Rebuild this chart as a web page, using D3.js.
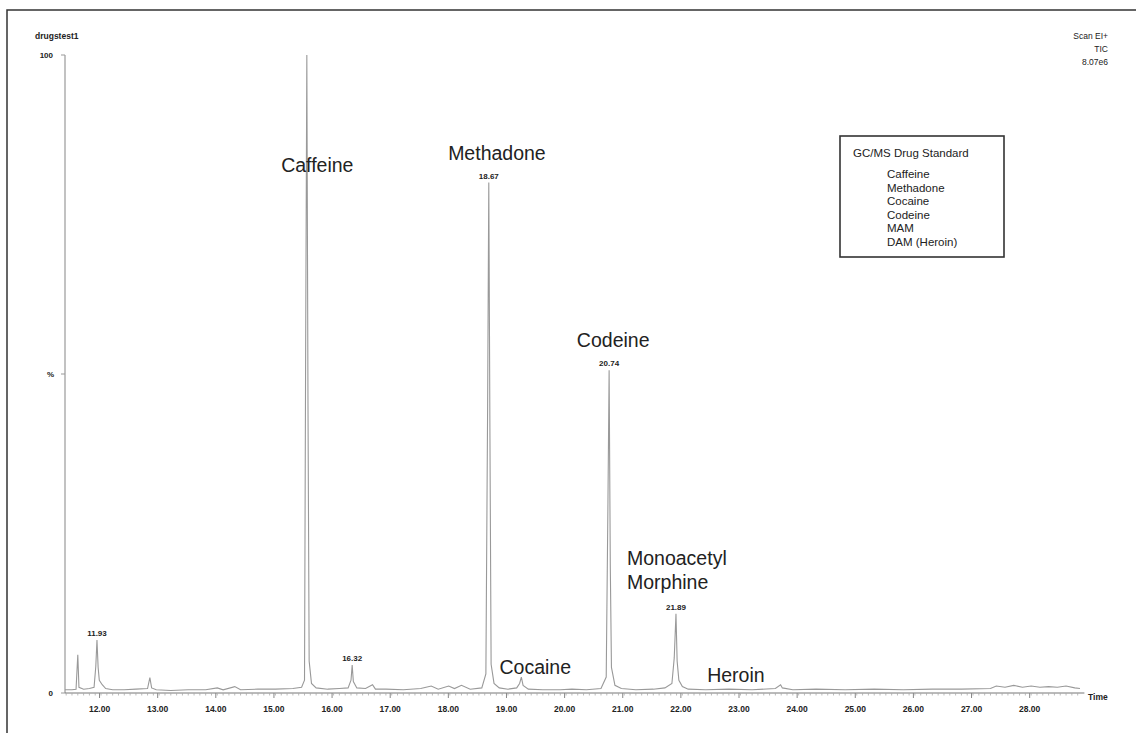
<!DOCTYPE html>
<html>
<head>
<meta charset="utf-8">
<style>
  html, body { margin: 0; padding: 0; background: #fff; }
  svg { display: block; }
  text { font-family: "Liberation Sans", Arial, sans-serif; fill: #222; }
</style>
<script src="https://cdn.jsdelivr.net/npm/d3@7"></script>
</head>
<body>
<svg id="chart"></svg>
<script>
// chromatogram data (retention time in minutes, TIC in %)
const retention = [
  11.38, 11.50, 11.57, 11.60, 11.62, 11.70, 11.80, 11.88, 11.91, 11.93, 11.95, 11.97, 12.02, 12.08,
  12.20, 12.40, 12.60, 12.80, 12.84, 12.87, 12.95, 13.20, 13.50, 13.80, 14.00, 14.10, 14.30, 14.40,
  14.70, 15.00, 15.30, 15.45, 15.50, 15.52, 15.54, 15.56, 15.58, 15.62, 15.70, 15.90, 16.10, 16.25,
  16.30, 16.32, 16.34, 16.40, 16.55, 16.67, 16.72, 16.90, 17.20, 17.50, 17.68, 17.80, 17.98, 18.08,
  18.20, 18.35, 18.55, 18.62, 18.65, 18.67, 18.69, 18.71, 18.76, 18.85, 19.00, 19.15, 19.20, 19.23,
  19.26, 19.35, 19.60, 19.90, 20.10, 20.35, 20.60, 20.69, 20.72, 20.74, 20.76, 20.78, 20.84, 20.95,
  21.20, 21.50, 21.70, 21.82, 21.86, 21.89, 21.91, 21.94, 22.00, 22.10, 22.40, 22.80, 23.20, 23.60,
  23.69, 23.72, 23.90, 24.30, 24.80, 25.30, 25.80, 26.30, 26.80, 27.30, 27.40, 27.55, 27.70, 27.85,
  28.00, 28.15, 28.30, 28.45, 28.60, 28.75, 28.84
];
const intensity = [
  0.5, 0.5, 0.6, 6.0, 0.9, 0.6, 0.7, 0.9, 4.2, 8.3, 4.0, 2.0, 1.3, 0.7,
  0.5, 0.5, 0.6, 0.7, 2.4, 0.8, 0.5, 0.4, 0.5, 0.5, 0.8, 0.5, 1.0, 0.5,
  0.6, 0.6, 0.7, 0.9, 2.0, 55, 100, 45, 5, 1.5, 0.8, 0.6, 0.7, 0.8,
  2.0, 4.4, 1.8, 0.8, 0.7, 1.3, 0.6, 0.6, 0.5, 0.7, 1.1, 0.6, 1.1, 0.7,
  1.2, 0.6, 0.8, 3.0, 45, 80, 40, 4.5, 1.5, 0.8, 0.6, 0.8, 1.5, 2.5,
  1.2, 0.6, 0.5, 0.5, 0.6, 0.5, 0.7, 2.5, 30, 50.6, 20, 4, 1.2, 0.7,
  0.5, 0.6, 0.8, 1.5, 5.5, 12.4, 5, 2.0, 1.0, 0.6, 0.5, 0.6, 0.5, 0.7,
  1.3, 0.8, 0.5, 0.6, 0.5, 0.6, 0.5, 0.6, 0.6, 0.7, 1.1, 0.9, 1.2, 0.9,
  1.1, 0.9, 1.0, 0.9, 1.1, 0.8, 0.7
];

// labelled peaks (apex time and height) and the printed retention times
const peakTimes = [11.93, 16.32, 18.67, 20.74, 21.89];
const peakHeights = [8.3, 4.4, 80, 50.6, 12.4];
const peakLabels = ['11.93', '16.32', '18.67', '20.74', '21.89'];

// compound names written on the trace
const compoundNames = ['Caffeine', 'Methadone', 'Codeine', 'Monoacetyl\nMorphine', 'Cocaine', 'Heroin'];

// axis ticks
const timeTicks = [12, 13, 14, 15, 16, 17, 18, 19, 20, 21, 22, 23, 24, 25, 26, 27, 28];
const percentTicks = ['100', '%', '0'];

// legend box
const legendTitle = 'GC/MS Drug Standard';
const legendItems = ['Caffeine', 'Methadone', 'Cocaine', 'Codeine', 'MAM', 'DAM (Heroin)'];

// header texts
const sampleName = 'drugstest1';
const scanInfo = ['Scan EI+', 'TIC', '8.07e6'];

(function () {
  const width = 1136, height = 733;
  const svg = d3.select('#chart').attr('width', width).attr('height', height);

  const x = d3.scaleLinear().domain([11.38, 28.84]).range([65, 1080]);
  const y = d3.scaleLinear().domain([0, 100]).range([693, 55]);

  // frame round the scan
  svg.append('path')
    .attr('d', `M7,${height} L7,10 L${width},10`)
    .attr('fill', 'none')
    .attr('stroke', '#333')
    .attr('stroke-width', 1.5);

  // y axis line + ticks
  svg.append('line')
    .attr('x1', x(11.38)).attr('x2', x(11.38))
    .attr('y1', y(100)).attr('y2', y(0))
    .attr('stroke', '#999').attr('stroke-width', 1.2);
  [100, 50, 0].forEach((v, i) => {
    svg.append('line')
      .attr('x1', x(11.38) - 4).attr('x2', x(11.38))
      .attr('y1', y(v)).attr('y2', y(v))
      .attr('stroke', '#999');
    svg.append('text')
      .attr('x', i === 1 ? 54 : 53).attr('y', y(v) + 3)
      .attr('text-anchor', 'end')
      .attr('font-size', 8).attr('font-weight', 'bold')
      .text(percentTicks[i]);
  });

  // x axis
  const xAxis = d3.axisBottom(x)
    .tickValues(timeTicks)
    .tickFormat(d3.format('.2f'))
    .tickSize(5)
    .tickPadding(8);
  const gx = svg.append('g')
    .attr('transform', `translate(-2,${y(0)})`)
    .call(xAxis);
  gx.select('.domain').attr('stroke', '#777').attr('d', `M${x(11.38) + 2},0H${x(28.95)}`);
  gx.selectAll('.tick line').attr('stroke', '#888');
  gx.selectAll('.tick text')
    .attr('font-family', '"Liberation Sans", Arial, sans-serif')
    .attr('font-size', 8.5).attr('font-weight', 'bold').attr('fill', '#333');

  // minor ticks every 0.1 min
  const minor = d3.range(114, 289).map(d => d / 10);
  svg.append('g').selectAll('line')
    .data(minor)
    .enter().append('line')
    .attr('x1', d => x(d)).attr('x2', d => x(d))
    .attr('y1', y(0)).attr('y2', y(0) + 2.5)
    .attr('stroke', '#aaa').attr('stroke-width', 0.8);

  svg.append('text')
    .attr('x', 1088).attr('y', 700)
    .attr('font-size', 8.5).attr('font-weight', 'bold')
    .text('Time');

  // the TIC trace
  const pts = retention.map((t, i) => [t, intensity[i]]);
  const line = d3.line().x(d => x(d[0])).y(d => y(d[1]));
  svg.append('path')
    .datum(pts)
    .attr('d', line)
    .attr('fill', 'none')
    .attr('stroke', '#999')
    .attr('stroke-width', 1.1);

  // apex retention times
  svg.append('g').selectAll('text')
    .data(peakTimes)
    .enter().append('text')
    .attr('x', d => x(d))
    .attr('y', (d, i) => y(peakHeights[i]) - 4)
    .attr('text-anchor', 'middle')
    .attr('font-size', 8).attr('font-weight', 'bold')
    .text((d, i) => peakLabels[i]);

  // compound annotations (placement in time / % units)
  const namePos = [
    { t: 15.72, v: 81.6 },
    { t: 18.81, v: 83.6 },
    { t: 20.81, v: 54.3 },
    { t: 21.93, v: 20.0 },
    { t: 19.47, v: 2.9 },
    { t: 22.92, v: 1.7 }
  ];
  compoundNames.forEach((name, i) => {
    const lines = name.split('\n');
    const tx = svg.append('text')
      .attr('x', x(namePos[i].t))
      .attr('y', y(namePos[i].v))
      .attr('text-anchor', lines.length > 1 ? 'start' : 'middle')
      .attr('font-size', 19.5);
    lines.forEach((l, j) => {
      tx.append('tspan')
        .attr('x', lines.length > 1 ? 627 : x(namePos[i].t))
        .attr('dy', j === 0 ? 0 : 24)
        .text(l);
    });
  });

  // legend box
  const lg = svg.append('g').attr('transform', 'translate(840,136)');
  lg.append('rect')
    .attr('width', 164).attr('height', 121)
    .attr('fill', 'none').attr('stroke', '#333').attr('stroke-width', 1.6);
  lg.append('text')
    .attr('x', 13).attr('y', 21)
    .attr('font-size', 11.5)
    .text(legendTitle);
  lg.selectAll('text.item')
    .data(legendItems)
    .enter().append('text')
    .attr('class', 'item')
    .attr('x', 47)
    .attr('y', (d, i) => 42 + i * 13.6)
    .attr('font-size', 11.5)
    .text(d => d);

  // header
  svg.append('text')
    .attr('x', 35).attr('y', 39)
    .attr('font-size', 8.5).attr('font-weight', 'bold')
    .text(sampleName);
  scanInfo.forEach((s, i) => {
    svg.append('text')
      .attr('x', 1108).attr('y', 39 + i * 13)
      .attr('text-anchor', 'end')
      .attr('font-size', 8.5)
      .text(s);
  });
})();
</script>
</body>
</html>
